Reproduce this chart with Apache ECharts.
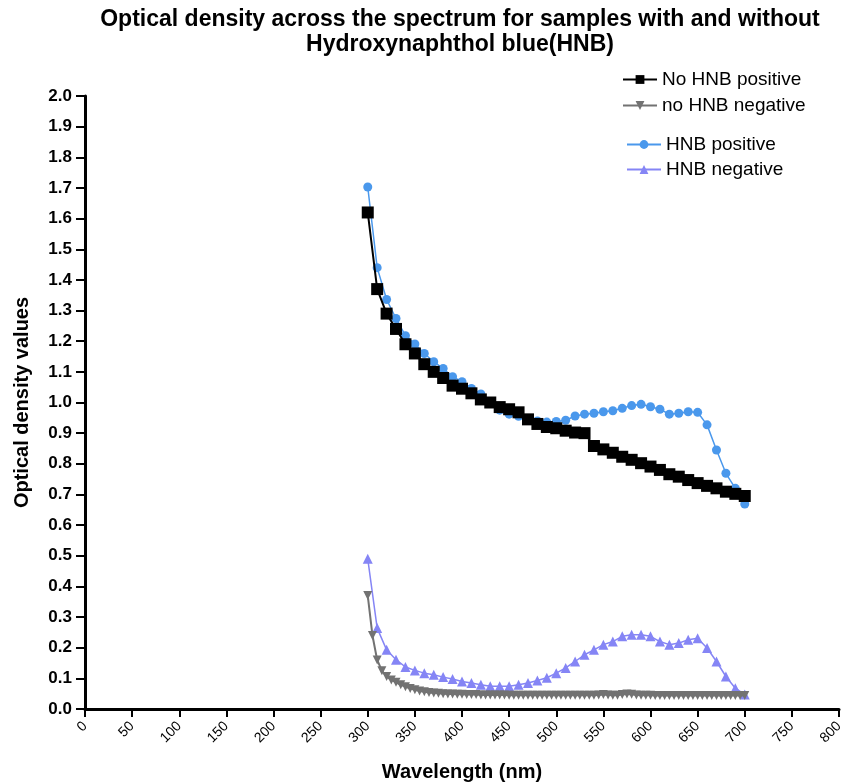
<!DOCTYPE html>
<html>
<head>
<meta charset="UTF-8">
<title>Optical density spectrum</title>
<script src="https://cdn.jsdelivr.net/npm/echarts@6/dist/echarts.min.js"></script>
<style>
	html, body{
		margin:0;
		padding:0;
		background:#ffffff;
	}
	#chart{
		width:842px;
		height:782px;
	}
</style>
</head>
<body>
	<div id="chart"></div>
<script>
	// wavelengths (nm), 10 nm step
	var wavelengths = [300,310,320,330,340,350,360,370,380,390,
		400,410,420,430,440,450,460,470,480,490,
		500,510,520,530,540,550,560,570,580,590,
		600,610,620,630,640,650,660,670,680,690,700];
	// the "no HNB negative" run was read every 5 nm
	var wavelengths5 = [300,305,310,315,320,325,330,335,340,345,350,355,360,365,370,375,380,385,390,395,400,
		405,410,415,420,425,430,435,440,445,450,455,460,465,470,475,480,485,490,495,500,
		505,510,515,520,525,530,535,540,545,550,555,560,565,570,575,580,585,590,595,600,
		605,610,615,620,625,630,635,640,645,650,655,660,665,670,675,680,685,690,695,700];

	var noHnbPositive = [1.62,1.37,1.29,1.24,1.19,1.16,1.125,1.10,1.08,1.055,
		1.045,1.03,1.01,1.00,0.985,0.978,0.968,0.945,0.93,0.92,
		0.916,0.908,0.902,0.900,0.858,0.847,0.836,0.823,0.813,0.802,
		0.791,0.780,0.766,0.758,0.747,0.737,0.728,0.720,0.709,0.702,0.695];

	var noHnbNegative = [0.370,0.240,0.160,0.125,0.106,0.095,0.087,0.079,0.073,0.067,0.063,0.059,0.056,0.054,0.052,0.051,0.050,0.049,0.049,0.048,0.048,
		0.047,0.047,0.047,0.046,0.046,0.046,0.046,0.046,0.046,0.045,0.045,0.045,0.045,0.045,0.045,0.045,0.045,0.045,0.045,0.045,
		0.045,0.045,0.045,0.045,0.045,0.045,0.045,0.045,0.046,0.047,0.046,0.045,0.045,0.047,0.049,0.048,0.046,0.045,0.045,0.045,
		0.044,0.044,0.044,0.044,0.044,0.044,0.044,0.044,0.044,0.044,0.044,0.044,0.044,0.044,0.044,0.044,0.044,0.044,0.044,0.044];

	var hnbPositive = [1.703,1.44,1.336,1.274,1.218,1.191,1.160,1.133,1.111,1.084,
		1.068,1.046,1.028,1.00,0.975,0.962,0.955,0.945,0.94,0.936,
		0.938,0.942,0.956,0.962,0.965,0.970,0.973,0.981,0.990,0.994,
		0.986,0.978,0.962,0.965,0.970,0.968,0.927,0.845,0.769,0.72,0.669];

	var hnbNegative = [0.49,0.264,0.193,0.161,0.137,0.126,0.117,0.112,0.104,0.098,
		0.090,0.085,0.079,0.074,0.074,0.074,0.079,0.085,0.093,0.102,
		0.117,0.134,0.155,0.177,0.193,0.210,0.220,0.237,0.242,0.242,
		0.237,0.220,0.210,0.215,0.226,0.231,0.199,0.155,0.106,0.068,0.047];

	var xTicks = {min:0, max:800, interval:50};
	var yTicks = {min:0, max:2, interval:0.1};

	function pairs(xs, ys){
		var out = [];
		for(var i=0;i<xs.length;i++){
			out.push([xs[i], ys[i]]);
		}
		return out;
	}

	var myChart = echarts.init(document.getElementById("chart"));
	var font = "Liberation Sans, Arial, sans-serif";
	var legendText = {fontFamily:font, fontSize:19, color:"#000"};

	var option = {
		backgroundColor:"#ffffff",
		animation:false,
		title:{
			text:"Optical density across the spectrum for samples with and without\nHydroxynaphthol blue(HNB)",
			left:455,
			top:2,
			textAlign:"center",
			textStyle:{
				fontFamily:font,
				fontSize:23,
				fontWeight:"bold",
				color:"#000",
				lineHeight:25
			}
		},
		legend:[{
			data:["No HNB positive","no HNB negative"],
			orient:"vertical",
			left:617,
			top:65,
			itemGap:7,
			itemWidth:34,
			itemHeight:11,
			textStyle:legendText
		},{
			data:["HNB positive","HNB negative"],
			orient:"vertical",
			left:621,
			top:130,
			itemGap:6,
			itemWidth:34,
			itemHeight:11,
			textStyle:legendText
		}],
		grid:{
			left:85,
			right:3,
			top:96,
			bottom:73,
			outerBoundsMode:"none"
		},
		xAxis:{
			type:"value",
			min:xTicks.min,
			max:xTicks.max,
			interval:xTicks.interval,
			name:"Wavelength (nm)",
			nameLocation:"middle",
			nameGap:53,
			nameTextStyle:{fontFamily:font, fontSize:20, fontWeight:"bold", color:"#000"},
			axisLine:{lineStyle:{color:"#000", width:3}},
			axisTick:{length:8, lineStyle:{color:"#000", width:2}},
			axisLabel:{rotate:45, fontFamily:font, fontSize:14, color:"#000", margin:15},
			splitLine:{show:false}
		},
		yAxis:{
			type:"value",
			min:yTicks.min,
			max:yTicks.max,
			interval:yTicks.interval,
			name:"Optical density values",
			nameLocation:"middle",
			nameGap:53,
			nameTextStyle:{fontFamily:font, fontSize:20, fontWeight:"bold", color:"#000"},
			axisLine:{show:true, lineStyle:{color:"#000", width:3}},
			axisTick:{show:true, length:9, lineStyle:{color:"#000", width:2}},
			axisLabel:{
				fontFamily:font, fontSize:17, fontWeight:"bold", color:"#000", margin:13,
				formatter:function(v){ return v.toFixed(1); }
			},
			splitLine:{show:false}
		},
		series:[{
			name:"HNB positive",
			type:"line",
			data:pairs(wavelengths, hnbPositive),
			symbol:"circle",
			symbolSize:9,
			z:2,
			itemStyle:{color:"#4a98ec"},
			lineStyle:{color:"#4a98ec", width:1.5}
		},{
			name:"HNB negative",
			type:"line",
			data:pairs(wavelengths, hnbNegative),
			symbol:"triangle",
			symbolSize:10,
			z:2,
			itemStyle:{color:"#8585f5"},
			lineStyle:{color:"#8585f5", width:1.5}
		},{
			name:"No HNB positive",
			type:"line",
			data:pairs(wavelengths, noHnbPositive),
			symbol:"rect",
			symbolSize:12,
			z:3,
			itemStyle:{color:"#000"},
			lineStyle:{color:"#000", width:2}
		},{
			name:"no HNB negative",
			type:"line",
			data:pairs(wavelengths5, noHnbNegative),
			symbol:"triangle",
			symbolRotate:180,
			symbolSize:9,
			z:3,
			itemStyle:{color:"#727272"},
			lineStyle:{color:"#727272", width:2}
		}]
	};
	myChart.setOption(option);
</script>
</body>
</html>
